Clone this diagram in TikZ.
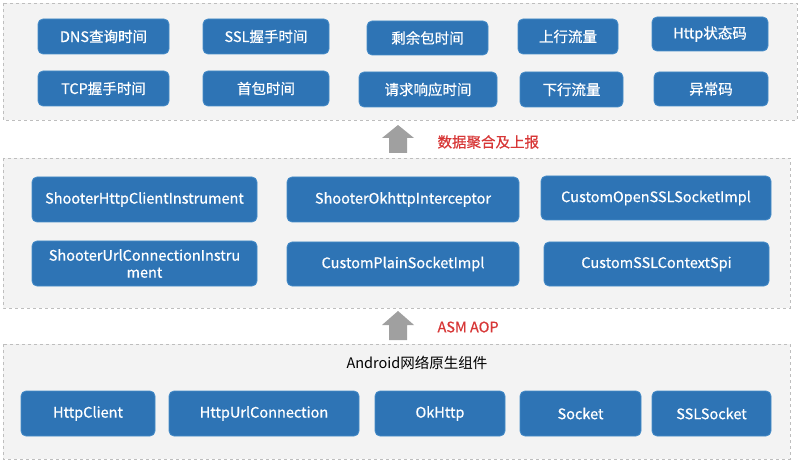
\documentclass[tikz,border=0pt]{standalone}
\usepackage{fontspec}
\setmainfont{Noto Sans CJK SC}
\newfontfamily\boxfont[FakeBold=0.6]{Noto Sans CJK SC}
\definecolor{boxblue}{RGB}{46,116,181}
\definecolor{boxedge}{RGB}{70,140,200}
\definecolor{contfill}{RGB}{243,243,243}
\definecolor{contedge}{RGB}{190,190,190}
\definecolor{labred}{RGB}{215,55,55}
\definecolor{arrgrey}{RGB}{160,160,160}
\tikzset{
  bx/.style={draw=boxedge, line width=0.8pt, fill=boxblue, rounded corners=5pt, text=white,
    font=\boxfont\fontsize{14.5}{17}\selectfont, inner sep=0pt, align=center},
  cont/.style={draw=contedge, dashed, line width=0.8pt, fill=contfill},
  lab/.style={text=labred, font=\boxfont\fontsize{14.5}{16}\selectfont},
  blockarrow/.style={fill=arrgrey, draw=none}
}
\begin{document}
\begin{tikzpicture}[x=1pt,y=-1pt]
\useasboundingbox (0,0) rectangle (800,462);
% containers
\draw[cont] (3,3) rectangle (797,120);
\draw[cont] (3,158) rectangle (790,308);
\draw[cont] (3,344) rectangle (790,459);
% top boxes
\node[bx, minimum width=131pt, minimum height=35pt] (dns) at (103.5,36.5) {DNS查询时间};
\node[bx, minimum width=126pt, minimum height=35pt] (ssl) at (266,36.5) {SSL握手时间};
\node[bx, minimum width=121pt, minimum height=34pt] (rem) at (427.5,38) {剩余包时间};
\node[bx, minimum width=100pt, minimum height=35pt] (up) at (568,36.5) {上行流量};
\node[bx, minimum width=116pt, minimum height=34pt] (code) at (710,34) {Http状态码};
\node[bx, minimum width=131pt, minimum height=35pt] (tcp) at (103.5,88.5) {TCP握手时间};
\node[bx, minimum width=126pt, minimum height=35pt] (first) at (266,88.5) {首包时间};
\node[bx, minimum width=138pt, minimum height=35pt] (resp) at (428,89.5) {请求响应时间};
\node[bx, minimum width=103pt, minimum height=35pt] (down) at (571.5,89.5) {下行流量};
\node[bx, minimum width=114pt, minimum height=34pt] (err) at (711,89) {异常码};
% middle boxes
\node[bx, minimum width=225pt, minimum height=45pt] (shci) at (144.5,199.5) {ShooterHttpClientInstrument};
\node[bx, minimum width=225pt, minimum height=45pt] (suci) at (144.5,263.5) {ShooterUrlConnectionInstru\\ment};
\node[bx, minimum width=232pt, minimum height=45pt] (soi) at (403,199.5) {ShooterOkhttpInterceptor};
\node[bx, minimum width=232pt, minimum height=44pt] (cpsi) at (403,264) {CustomPlainSocketImpl};
\node[bx, minimum width=230pt, minimum height=44pt] (cossi) at (656,198) {CustomOpenSSLSocketImpl};
\node[bx, minimum width=225pt, minimum height=44pt] (csslcs) at (656.5,264) {CustomSSLContextSpi};
% bottom
\node[font=\fontsize{14.5}{16}\selectfont, text=black] (andr) at (417,363) {Android网络原生组件};
\node[bx, minimum width=134pt, minimum height=45pt] (hc) at (88,413.5) {HttpClient};
\node[bx, minimum width=190pt, minimum height=45pt] (huc) at (264,413.5) {HttpUrlConnection};
\node[bx, minimum width=130pt, minimum height=45pt] (ok) at (440,413.5) {OkHttp};
\node[bx, minimum width=121pt, minimum height=45pt] (sock) at (580.5,413.5) {Socket};
\node[bx, minimum width=119pt, minimum height=45pt] (ssls) at (711.5,413.5) {SSLSocket};
% block arrows
\fill[blockarrow] (389,153) -- (389,138) -- (382,138) -- (398,125) -- (414,138) -- (407,138) -- (407,153) -- cycle;
\node[lab, anchor=west] (agg) at (434,142) {数据聚合及上报};
\fill[blockarrow] (389,340) -- (389,325) -- (382,325) -- (398,311) -- (414,325) -- (407,325) -- (407,340) -- cycle;
\node[lab, anchor=west] (asm) at (434,327) {ASM AOP};
\end{tikzpicture}
\end{document}
